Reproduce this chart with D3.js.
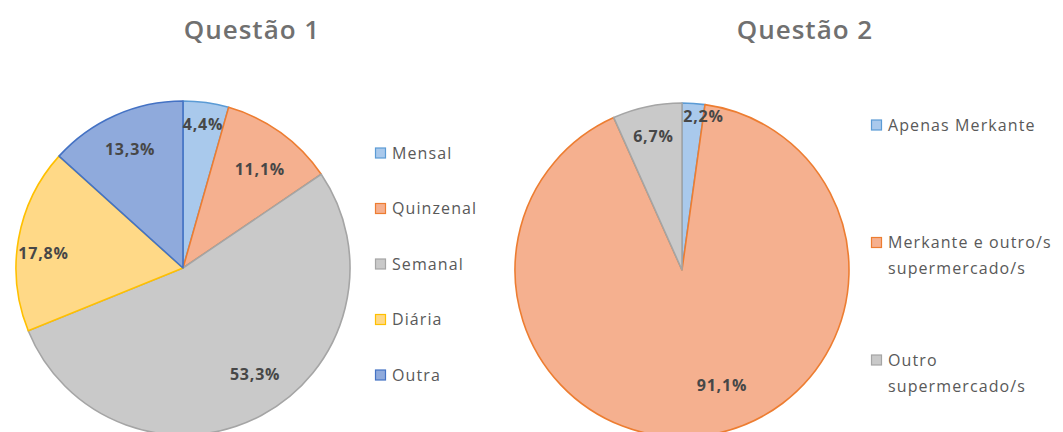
<!DOCTYPE html>
<html>
<head>
<meta charset="utf-8">
<script src="https://cdn.jsdelivr.net/npm/d3@7"></script>
<style>
  html, body { margin: 0; padding: 0; background: #ffffff; }
  svg { display: block; }
  text { font-family: "Open Sans", "DejaVu Sans", sans-serif; }
</style>
</head>
<body>
<svg id="chart" width="1063" height="432"></svg>
<script>
// Questão 1: frequência
const q1Title = "Questão 1";
const q1Categories = ["Mensal", "Quinzenal", "Semanal", "Diária", "Outra"];
const q1Values = [4.4, 11.1, 53.3, 17.8, 13.3];

// Questão 2: onde faz compras
const q2Title = "Questão 2";
const q2Categories = ["Apenas Merkante", "Merkante e outro/s supermercado/s", "Outro supermercado/s"];
const q2Values = [2.2, 91.1, 6.7];

// Slice styles (fill / outline)
const q1Fills   = ["#a9c9ec", "#f5b08f", "#c9c9c9", "#ffd987", "#8faadc"];
const q1Strokes = ["#5b9bd5", "#ed7d31", "#a5a5a5", "#ffc000", "#4472c4"];
const q2Fills   = ["#a9c9ec", "#f5b08f", "#c9c9c9"];
const q2Strokes = ["#5b9bd5", "#ed7d31", "#a5a5a5"];

// Label placement: radius factor and angular nudge (degrees)
const q1LabelPos = [{r: 0.87, da: 0}, {r: 0.75, da: 2}, {r: 0.77, da: -6}, {r: 0.84, da: -4}, {r: 0.78, da: 0}];
const q2LabelPos = [{r: 0.93, da: 4}, {r: 0.73, da: -11}, {r: 0.82, da: 0}];

const svg = d3.select("#chart");
const fmt = v => d3.format(".1f")(v).replace(".", ",") + "%";

function drawPie(cfg) {
  const g = svg.append("g");

  g.append("text")
    .attr("x", cfg.titleX).attr("y", 39)
    .attr("text-anchor", "middle")
    .attr("font-size", 26).attr("font-weight", 600)
    .attr("letter-spacing", 1)
    .attr("fill", "#707070")
    .text(cfg.title);

  const data = cfg.categories.map((c, i) => ({cat: c, value: cfg.values[i], i}));
  const pie = d3.pie().sort(null).value(d => d.value);
  const arcs = pie(data);
  const arc = d3.arc().innerRadius(0).outerRadius(cfg.R);

  const pg = g.append("g").attr("transform", `translate(${cfg.cx},${cfg.cy})`);
  pg.selectAll("path.slice").data(arcs).join("path")
    .attr("class", "slice")
    .attr("d", arc)
    .attr("fill", d => cfg.fills[d.data.i])
    .attr("stroke", d => cfg.strokes[d.data.i])
    .attr("stroke-width", 1.6)
    .attr("stroke-linejoin", "round");

  pg.selectAll("text.lbl").data(arcs).join("text")
    .attr("class", "lbl")
    .attr("transform", d => {
      const p = cfg.labelPos[d.data.i];
      const a = (d.startAngle + d.endAngle) / 2 + p.da * Math.PI / 180;
      const r = cfg.R * p.r;
      return `translate(${r * Math.sin(a)},${-r * Math.cos(a)})`;
    })
    .attr("text-anchor", "middle")
    .attr("dy", "0.35em")
    .attr("font-size", 16).attr("font-weight", 700)
    .attr("letter-spacing", 0.8)
    .attr("fill", "#474747")
    .text(d => fmt(d.data.value));

  // Legend
  const ly = d3.scalePoint().domain(cfg.categories).range(cfg.legendRange);
  const lg = g.append("g");
  const items = lg.selectAll("g.item").data(data).join("g")
    .attr("class", "item")
    .attr("transform", d => `translate(${cfg.legendX},${ly(d.cat)})`);
  items.append("rect")
    .attr("x", 0.5).attr("y", -5).attr("width", 10).attr("height", 10)
    .attr("fill", d => cfg.fills[d.i])
    .attr("stroke", d => cfg.strokes[d.i])
    .attr("stroke-width", 1.2);
  items.each(function(d) {
    const t = d3.select(this).append("text")
      .attr("y", 0)
      .attr("font-size", 16)
      .attr("letter-spacing", 1.1)
      .attr("fill", "#595959");
    // wrap words onto lines within the legend width
    const words = d.cat.split(" ");
    let line = [];
    let ts = t.append("tspan").attr("x", 17).attr("dy", "0.35em");
    words.forEach(w => {
      line.push(w);
      ts.text(line.join(" "));
      if (ts.node().getComputedTextLength() > cfg.legendWrap && line.length > 1) {
        line.pop();
        ts.text(line.join(" "));
        line = [w];
        ts = t.append("tspan").attr("x", 17).attr("dy", cfg.lineH).text(w);
      }
    });
  });
}

drawPie({
  title: q1Title, titleX: 252,
  categories: q1Categories, values: q1Values,
  fills: q1Fills, strokes: q1Strokes, labelPos: q1LabelPos,
  cx: 183, cy: 268, R: 167,
  legendX: 375, legendRange: [153, 375], legendWrap: 160, lineH: 26
});

drawPie({
  title: q2Title, titleX: 805,
  categories: q2Categories, values: q2Values,
  fills: q2Fills, strokes: q2Strokes, labelPos: q2LabelPos,
  cx: 682, cy: 270, R: 167,
  legendX: 871, legendRange: [125, 360], legendWrap: 180, lineH: 26
});
</script>
</body>
</html>
